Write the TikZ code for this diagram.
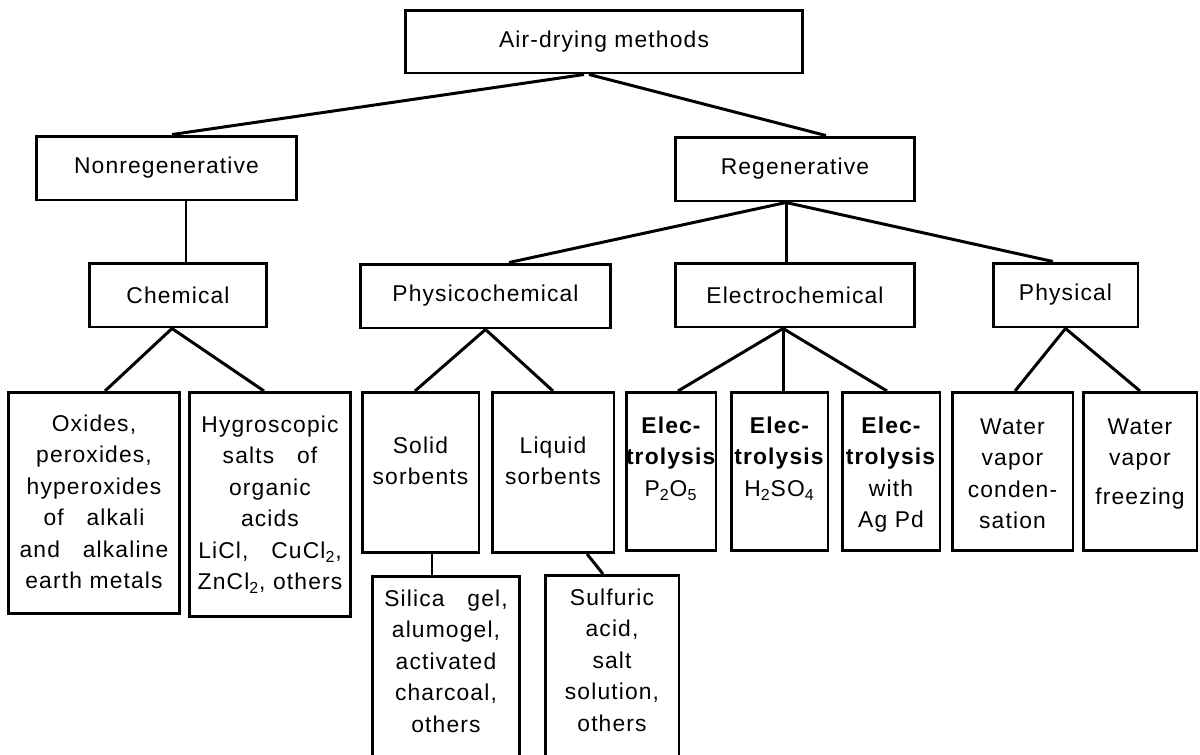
\documentclass[tikz,border=0pt]{standalone}
\usepackage{fontspec}
\setmainfont{Liberation Sans}[LetterSpace=5]
\newcommand{\boxfont}{\fontsize{13}{17.9}\selectfont}
\hyphenpenalty=10000

\begin{document}
\begin{tikzpicture}[x=0.02cm,y=-0.02cm,
  box/.style={draw,line width=1.7pt,minimum height=1.28cm,font=\boxfont},
  leaf/.style={draw,line width=1.7pt,anchor=north,align=center,
               inner xsep=0pt,inner ysep=0pt,font=\boxfont},
  link/.style={line width=1.7pt},
]
\useasboundingbox (0,0) rectangle (1200,754);
\clip (0,0) rectangle (1200,754);
\node[box,minimum width=7.96cm,minimum height=1.26cm] (root) at (604,41.5)
  {Air-drying methods};
\node[box,minimum width=5.22cm] (nonreg) at (166.5,168) {Nonregenerative};
\node[box,minimum width=4.8cm] (regen) at (795,169) {Regenerative};
\node[box,minimum width=3.56cm] (chem) at (178,295) {Chemical};
\node[box,minimum width=5.02cm] (physchem) at (485.5,296) {Physicochemical};
\node[box,minimum width=4.8cm] (electro) at (795,295) {Electrochemical};
\node[box,minimum width=2.9cm] (phys) at (1065.5,295) {Physical};
\node[leaf,text width=3.44cm,text height=0.78cm,text depth=3.64cm] (oxides)
  at (94,391) {Oxides,\\peroxides,\\hyperoxides\\of\quad alkali\\and\quad alkaline\\earth metals};
\node[leaf,text width=3.24cm,text height=0.8cm,text depth=3.68cm] (hygro)
  at (270,391) {Hygroscopic\\salts\quad of\\organic\\acids\\LiCl,\quad CuCl\textsubscript{2},\\ZnCl\textsubscript{2},~others};
\node[leaf,text width=2.34cm,text height=1.22cm,text depth=1.98cm] (solid)
  at (420.5,391) {Solid\\sorbents};
\node[leaf,text width=2.44cm,text height=1.22cm,text depth=1.98cm] (liquid)
  at (553,391) {Liquid\\sorbents};
\node[leaf,text width=1.8cm,text height=0.82cm,text depth=2.34cm] (elec1)
  at (671,391) {\textbf{Elec-}\\\textbf{trolysis}\\P\textsubscript{2}O\textsubscript{5}};
\node[leaf,text width=1.94cm,text height=0.82cm,text depth=2.34cm] (elec2)
  at (779.5,391) {\textbf{Elec-}\\\textbf{trolysis}\\H\textsubscript{2}SO\textsubscript{4}};
\node[leaf,text width=1.96cm,text height=0.82cm,text depth=2.34cm] (elec3)
  at (891,391) {\textbf{Elec-}\\\textbf{trolysis}\\with\\Ag~Pd};
\node[leaf,text width=2.42cm,text height=0.84cm,text depth=2.32cm] (water1)
  at (1012.5,391) {Water\\vapor\\conden-\\sation};
\node[leaf,text width=2.28cm,text height=0.84cm,text depth=2.32cm] (water2)
  at (1140,391) {Water\\vapor\\[4pt]freezing};
\node[leaf,text width=2.96cm,text height=0.6cm,text depth=4cm] (silica)
  at (446,575) {Silica\quad gel,\\alumogel,\\activated\\charcoal,\\others};
\node[leaf,text width=2.68cm,text height=0.6cm,text depth=4cm] (sulfuric)
  at (612,574) {Sulfuric\\acid,\\salt\\solution,\\others};
\draw[link] ([xshift=-0.4cm]root.south) -- ([xshift=0.11cm]nonreg.north);
\draw[link] ([xshift=-0.3cm]root.south) -- ([xshift=0.62cm]regen.north);
\draw[link] ([xshift=0.39cm]nonreg.south) -- ([xshift=0.39cm]nonreg.south |- chem.north);
\draw[link] ([xshift=-0.18cm]regen.south) -- ([xshift=0.47cm]physchem.north);
\draw[link] ([xshift=-0.18cm]regen.south) -- ([xshift=-0.18cm]electro.north);
\draw[link] ([xshift=-0.18cm]regen.south) -- ([xshift=-0.25cm]phys.north);
\draw[link] ([xshift=-0.12cm]chem.south) -- ([xshift=0.22cm]oxides.north);
\draw[link] ([xshift=-0.12cm]chem.south) -- ([xshift=-0.12cm]hygro.north);
\draw[link] (physchem.south) -- ([xshift=-0.11cm]solid.north);
\draw[link] (physchem.south) -- (liquid.north);
\draw[link] ([xshift=-0.24cm]electro.south) -- ([xshift=0.14cm]elec1.north);
\draw[link] ([xshift=-0.24cm]electro.south) -- ([xshift=-0.24cm]electro.south |- elec2.north);
\draw[link] ([xshift=-0.24cm]electro.south) -- ([xshift=-0.08cm]elec3.north);
\draw[link] (phys.south) -- ([xshift=0.05cm]water1.north);
\draw[link] (phys.south) -- (water2.north);
\draw[link] ([xshift=0.23cm]solid.south) -- ([xshift=0.23cm]solid.south |- silica.north);
\draw[link] ([xshift=0.68cm]liquid.south) -- ([xshift=-0.18cm]sulfuric.north);
\end{tikzpicture}
\end{document}
